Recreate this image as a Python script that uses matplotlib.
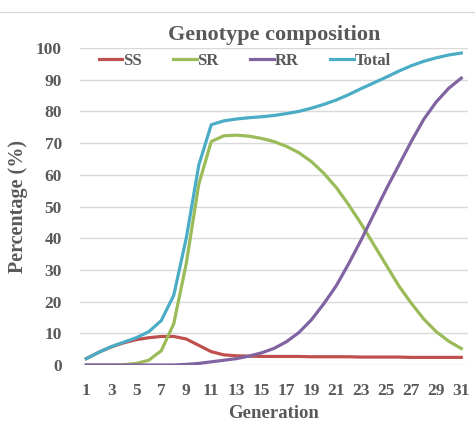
import matplotlib.pyplot as plt
from matplotlib.lines import Line2D

generation = list(range(1, 32))
ss = [2.0, 4.0, 5.7, 7.0, 8.0, 8.6, 9.0, 9.0, 8.2, 6.2, 4.2, 3.2, 2.9, 2.8, 2.7, 2.7,
      2.7, 2.7, 2.6, 2.6, 2.6, 2.6, 2.5, 2.5, 2.5, 2.5, 2.4, 2.4, 2.4, 2.4, 2.4]
sr = [0.0, 0.0, 0.0, 0.1, 0.5, 1.5, 4.5, 13.0, 32.0, 57.0, 70.5, 72.3, 72.5, 72.2,
      71.5, 70.5, 69.0, 67.0, 64.2, 60.5, 56.0, 50.5, 44.5, 38.0, 31.5, 25.0, 19.5,
      14.5, 10.5, 7.5, 5.2]
rr = [0.0, 0.0, 0.0, 0.0, 0.0, 0.0, 0.0, 0.0, 0.2, 0.5, 1.0, 1.5, 2.0, 2.8, 3.8,
      5.2, 7.3, 10.2, 14.2, 19.3, 25.0, 32.0, 39.5, 47.5, 55.5, 63.0, 70.5, 77.5,
      83.0, 87.3, 90.5]
total = [2.0, 4.0, 5.8, 7.2, 8.6, 10.5, 14.0, 22.0, 40.0, 63.0, 75.8, 77.0, 77.6,
         78.0, 78.3, 78.7, 79.3, 80.0, 81.0, 82.2, 83.6, 85.3, 87.2, 89.0, 90.8,
         92.7, 94.4, 95.8, 96.9, 97.8, 98.4]
xticks = list(range(1, 32, 2))

plt.rcParams['font.family'] = ['Liberation Serif', 'DejaVu Serif']
plt.rcParams['font.weight'] = 'bold'
plt.rcParams['axes.labelweight'] = 'bold'
grey = '#595959'

fig = plt.figure(figsize=(4.75, 4.23), dpi=100)
ax = fig.add_axes([80 / 475, 1 - 365 / 423, 387.5 / 475, 317 / 423])

ax.plot(generation, ss, color='#C0504D', lw=2.3, label='SS')
ax.plot(generation, sr, color='#9BBB59', lw=2.3, label='SR')
ax.plot(generation, rr, color='#8064A2', lw=2.3, label='RR')
ax.plot(generation, total, color='#4BACC6', lw=2.3, label='Total')

ax.set_xlim(0.5, 31.5)
ax.set_ylim(0, 100)
ax.set_yticks(range(0, 101, 10))
ax.set_xticks(xticks)
ax.grid(axis='y', color='#D9D9D9', lw=1)
ax.set_axisbelow(True)
for s in ax.spines.values():
    s.set_visible(False)
ax.tick_params(length=0, labelsize=12.5, colors=grey, pad=13)
ax.tick_params(axis='y', pad=13)

ax.set_title('Genotype composition', fontsize=16, color=grey, fontweight='bold', pad=6)
ax.set_xlabel('Generation', fontsize=13.5, color=grey, labelpad=4)
ax.set_ylabel('Percentage (%)', fontsize=14.5, color=grey, labelpad=6)

ax.legend(loc='upper center', bbox_to_anchor=(0.425, 1.01), ncol=4, frameon=False,
          fontsize=12, handlelength=1.4, handletextpad=0.05, columnspacing=1.9,
          labelcolor=grey, borderaxespad=0.1)

fig.add_artist(Line2D([0, 1], [1 - 12 / 423, 1 - 12 / 423], color='#D9D9D9', lw=1))

plt.savefig('out.png', dpi=100)
